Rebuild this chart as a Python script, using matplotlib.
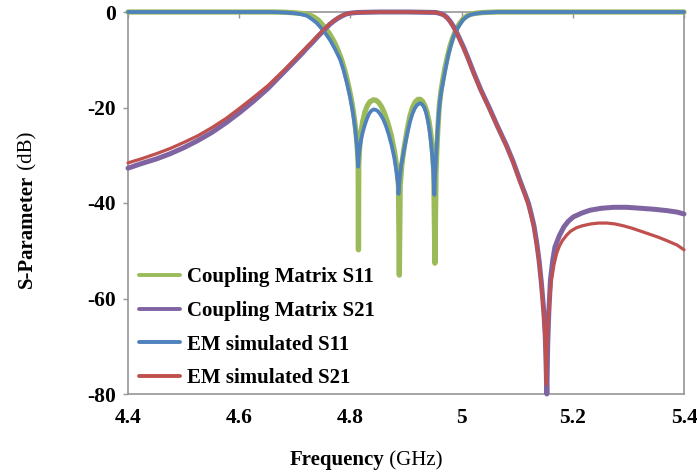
import matplotlib
matplotlib.use("Agg")
import matplotlib.pyplot as plt
from matplotlib.font_manager import FontProperties

# ---- data (frequency in GHz, magnitude in dB) ----
cm_s11_f = [4.40, 4.551, 4.662, 4.682, 4.697, 4.712, 4.722, 4.732, 4.7425, 4.7485, 4.7545,
            4.7626, 4.7706, 4.7777, 4.7848, 4.7908, 4.7958, 4.8009, 4.8049, 4.8079, 4.8109,
            4.8129, 4.8140, 4.8145, 4.8150, 4.8165, 4.8190, 4.8220, 4.8260, 4.8301, 4.8351,
            4.8412, 4.8462, 4.8512, 4.8563, 4.8613, 4.8673, 4.8734, 4.8794, 4.8835, 4.8865,
            4.8880, 4.8895, 4.8925, 4.8965, 4.9016, 4.9066, 4.9117, 4.9167, 4.9217, 4.9258,
            4.9298, 4.9338, 4.9378, 4.9419, 4.9449, 4.9479, 4.9499, 4.9520, 4.9540, 4.9560,
            4.9580, 4.9600, 4.9630, 4.9660, 4.9700, 4.9740, 4.9790, 4.9840, 4.9900, 4.9960,
            5.0030, 5.0100, 5.0170, 5.0260, 5.0400, 5.0650, 5.2060, 5.40]
cm_s11_db = [0.0, 0.0, 0.0, -0.05, -0.15, -0.3, -0.5, -0.9, -1.7, -2.5, -3.3,
             -4.6, -6.2, -8.0, -10.2, -12.6, -15.0, -17.8, -20.5, -23.0, -26.2,
             -29.5, -32.0, -49.8, -32.0, -28.5, -25.2, -23.0, -21.0, -19.7, -18.8,
             -18.4, -18.5, -19.0, -19.9, -21.2, -23.2, -25.8, -29.3, -32.5, -36.5,
             -55.1, -36.5, -32.0, -28.5, -25.0, -22.0, -20.0, -18.8, -18.3, -18.3,
             -18.7, -19.6, -21.0, -23.2, -25.8, -29.5, -33.5, -52.6, -33.5, -27.5,
             -23.0, -19.5, -16.5, -14.3, -11.8, -9.6, -7.2, -5.4, -3.7, -2.5,
             -1.4, -0.8, -0.45, -0.25, -0.1, 0.0, 0.0, 0.0]

cm_s21_f = [4.40, 4.4252, 4.4504, 4.4755, 4.5007, 4.5259, 4.5511, 4.5763, 4.6014, 4.6266, 4.6518,
            4.6669, 4.6820, 4.6921, 4.7022, 4.7122, 4.7223, 4.7324, 4.7425, 4.7526, 4.7627, 4.7702,
            4.7778, 4.7853, 4.7928, 4.8029, 4.8130, 4.8533, 4.9036, 4.9540, 4.9590, 4.9640, 4.9691,
            4.9741, 4.9791, 4.9852, 4.9912, 4.9972, 5.0043, 5.0124, 5.0214, 5.0346, 5.0507, 5.0648,
            5.0809, 5.0929, 5.1050, 5.1131, 5.1201, 5.1252, 5.1302, 5.1352, 5.1393, 5.1433, 5.1463,
            5.1483, 5.1503, 5.1513, 5.1533, 5.1548, 5.1568, 5.1598, 5.1639, 5.1679, 5.1760,
            5.1840, 5.1921, 5.2012, 5.2163, 5.2314, 5.2516, 5.2737, 5.2969, 5.3210, 5.3452,
            5.3694, 5.3875, 5.40]
cm_s21_db = [-32.7, -31.7, -30.8, -29.7, -28.4, -26.9, -25.2, -23.2, -21.0, -18.6, -16.0,
             -14.2, -12.4, -11.2, -10.0, -8.8, -7.5, -6.3, -5.0, -3.8, -2.6, -1.9,
             -1.3, -0.8, -0.4, -0.2, -0.1, 0.0, 0.0, -0.1, -0.25, -0.42, -0.7,
             -1.2, -1.9, -3.0, -4.3, -5.8, -7.6, -9.9, -12.6, -16.3, -20.3, -24.0,
             -28.0, -31.4, -35.3, -37.8, -40.0, -42.3, -44.8, -48.4, -52.0, -56.5, -60.5,
             -63.5, -67.5, -71.0, -80.0, -70.0, -63.0, -56.1, -52.0, -49.2, -46.8,
             -45.0, -43.8, -42.9, -42.1, -41.5, -41.1, -40.9, -40.9, -41.1, -41.3,
             -41.6, -41.9, -42.3]

em_s11_f = [4.40, 4.551, 4.652, 4.672, 4.687, 4.702, 4.712, 4.722, 4.732, 4.7395, 4.7455,
            4.7546, 4.7636, 4.7726, 4.7817, 4.7877, 4.7937, 4.7988, 4.8029, 4.8059, 4.8089,
            4.8119, 4.8140, 4.8155, 4.8185, 4.8215, 4.8255, 4.8296, 4.8336, 4.8376, 4.8417,
            4.8457, 4.8497, 4.8537, 4.8588, 4.8638, 4.8688, 4.8739, 4.8789, 4.8829, 4.8855,
            4.8865, 4.8885, 4.8915, 4.8955, 4.8996, 4.9036, 4.9076, 4.9117, 4.9157, 4.9197,
            4.9248, 4.9288, 4.9328, 4.9359, 4.9389, 4.9419, 4.9449, 4.9469, 4.9490, 4.9510,
            4.9530, 4.9550, 4.9570, 4.9590, 4.9610, 4.9640, 4.9670, 4.9700, 4.9730, 4.9770,
            4.9820, 4.9860, 4.9910, 4.9970, 5.0030, 5.0090, 5.0150, 5.0240, 5.0380, 5.0640,
            5.2060, 5.40]
em_s11_db = [0.0, 0.0, 0.0, -0.05, -0.15, -0.3, -0.5, -0.8, -1.6, -2.3, -3.1,
             -4.4, -5.9, -7.8, -10.0, -12.2, -14.9, -17.5, -20.0, -22.2, -24.8,
             -28.3, -32.4, -29.5, -27.2, -25.5, -23.8, -22.4, -21.3, -20.7, -20.4,
             -20.5, -20.8, -21.4, -22.4, -23.8, -25.6, -27.8, -30.5, -33.5, -35.8,
             -38.1, -35.0, -32.0, -29.5, -27.0, -24.8, -22.8, -21.3, -20.2, -19.5,
             -19.1, -19.3, -20.0, -21.0, -22.5, -24.5, -27.3, -29.8, -33.0, -38.3,
             -32.5, -28.5, -24.5, -21.2, -18.6, -16.3, -14.5, -12.6, -10.8, -8.6,
             -6.5, -5.0, -3.8, -2.6, -1.6, -1.0, -0.6, -0.35, -0.15, 0.0,
             0.0, 0.0]

em_s21_f = [4.40, 4.4252, 4.4504, 4.4755, 4.5007, 4.5259, 4.5511, 4.5763, 4.6014, 4.6266, 4.6518,
            4.6669, 4.6820, 4.6921, 4.7022, 4.7122, 4.7223, 4.7324, 4.7425, 4.7526, 4.7627, 4.7702,
            4.7778, 4.7853, 4.7928, 4.8029, 4.8130, 4.8533, 4.9036, 4.9540, 4.9590, 4.9640, 4.9691,
            4.9741, 4.9791, 4.9852, 4.9912, 4.9972, 5.0043, 5.0124, 5.0214, 5.0346, 5.0507, 5.0648,
            5.0809, 5.0929, 5.1050, 5.1131, 5.1201, 5.1252, 5.1302, 5.1352, 5.1393, 5.1423, 5.1453,
            5.1473, 5.1493, 5.1508, 5.1524, 5.1534, 5.1549, 5.1569, 5.1589, 5.1619, 5.1660,
            5.1710, 5.1760, 5.1811, 5.1891, 5.1962, 5.2062, 5.2163, 5.2314, 5.2465, 5.2616, 5.2767,
            5.2918, 5.3070, 5.3221, 5.3372, 5.3523, 5.3674, 5.3875, 5.40]
em_s21_db = [-31.6, -30.7, -29.7, -28.6, -27.3, -25.9, -24.2, -22.3, -20.1, -17.8, -15.4,
             -13.7, -12.0, -10.8, -9.6, -8.4, -7.2, -6.0, -4.8, -3.6, -2.5, -1.8,
             -1.2, -0.75, -0.4, -0.2, -0.1, 0.0, 0.0, -0.1, -0.25, -0.45, -0.75,
             -1.3, -2.0, -3.1, -4.5, -6.0, -7.8, -10.1, -12.8, -16.5, -20.5, -24.1,
             -28.2, -31.6, -35.6, -38.0, -40.5, -42.8, -45.3, -49.0, -52.5, -56.0, -60.0,
             -63.0, -67.0, -71.0, -78.0, -70.0, -66.0, -63.0, -59.5, -56.0, -53.0,
             -50.5, -49.0, -47.9, -46.7, -45.9, -45.2, -44.8, -44.4, -44.2, -44.2, -44.4,
             -44.8, -45.3, -45.9, -46.5, -47.1, -47.8, -48.8, -49.8]

series_labels = ["Coupling Matrix S11", "Coupling Matrix S21",
                 "EM simulated S11", "EM simulated S21"]
x_ticks = [4.4, 4.6, 4.8, 5.0, 5.2, 5.4]
x_tick_labels = ["4.4", "4.6", "4.8", "5", "5.2", "5.4"]
y_ticks = [0, -20, -40, -60, -80]
y_tick_labels = ["0", "-20", "-40", "-60", "-80"]

# ---- styling ----
W, H = 697, 474
DPI = 100
SERIF = "Liberation Serif"
GRID_GRAY = "#969696"
colors = ["#9BBB59", "#8064A2", "#4F81BD", "#C0504D"]
widths = [3.8, 3.6, 2.7, 2.3]

fig = plt.figure(figsize=(W / DPI, H / DPI), dpi=DPI)
ax_l, ax_r, ax_t, ax_b = 128, 684, 12, 394
ax = fig.add_axes([ax_l / W, 1 - ax_b / H, (ax_r - ax_l) / W, (ax_b - ax_t) / H])

data = [(cm_s11_f, cm_s11_db), (cm_s21_f, cm_s21_db),
        (em_s11_f, em_s11_db), (em_s21_f, em_s21_db)]
handles = []
for (f, db), c, lw, lab in zip(data, colors, widths, series_labels):
    ln, = ax.plot(f, db, color=c, lw=lw, label=lab, clip_on=False,
                  solid_joinstyle="round", solid_capstyle="round")
    handles.append(ln)

ax.set_xlim(4.4, 5.4)
ax.set_ylim(-80, 0)

for s in ax.spines.values():
    s.set_color(GRID_GRAY)
    s.set_linewidth(1.2)
    s.set_zorder(0.5)

tick_font = FontProperties(family=SERIF, weight="bold", size=15.5)
ax.set_xticks(x_ticks)
ax.set_xticklabels(x_tick_labels, fontproperties=tick_font)
ax.set_yticks(y_ticks)
ax.set_yticklabels(y_tick_labels, fontproperties=tick_font)
ax.tick_params(axis="x", top=True, bottom=False, labeltop=False, labelbottom=True,
               direction="in", length=4.5, width=1.0, color=GRID_GRAY, pad=10)
ax.tick_params(axis="y", left=True, right=False, direction="out",
               length=3.6, width=1.0, color=GRID_GRAY, pad=5)

leg_font = FontProperties(family=SERIF, weight="bold", size=15)
leg = ax.legend(handles=handles, loc="upper left", bbox_to_anchor=(0.02, 0.332),
                frameon=False, prop=leg_font, handlelength=1.97, handletextpad=0.34,
                labelspacing=0.66, borderpad=0, borderaxespad=0)
for ln in leg.get_lines():
    ln.set_linewidth(2.8)

# axis titles: bold name followed by regular unit
bold15 = FontProperties(family=SERIF, weight="bold", size=15)
reg15 = FontProperties(family=SERIF, weight="normal", size=15)

fig.canvas.draw()
r = fig.canvas.get_renderer()

xa = fig.text(0, 0, "Frequency", fontproperties=bold15, va="baseline", ha="left")
xb = fig.text(0, 0, " (GHz)", fontproperties=reg15, va="baseline", ha="left")
wa = xa.get_window_extent(r).width
wb = xb.get_window_extent(r).width
x0 = 366 - (wa + wb) / 2
base = H - 465
xa.set_position((x0 / W, base / H))
xb.set_position(((x0 + wa) / W, base / H))

ya = fig.text(0, 0, "S-Parameter", fontproperties=bold15, rotation=90,
              va="baseline", ha="left", rotation_mode="anchor")
yb = fig.text(0, 0, " (dB)", fontproperties=reg15, rotation=90,
              va="baseline", ha="left", rotation_mode="anchor")
ha_ = ya.get_window_extent(r).height
hb_ = yb.get_window_extent(r).height
y0 = (H - 210) - (ha_ + hb_) / 2
bx = 32
ya.set_position((bx / W, y0 / H))
yb.set_position((bx / W, (y0 + ha_) / H))

fig.savefig("out.png", dpi=DPI)
